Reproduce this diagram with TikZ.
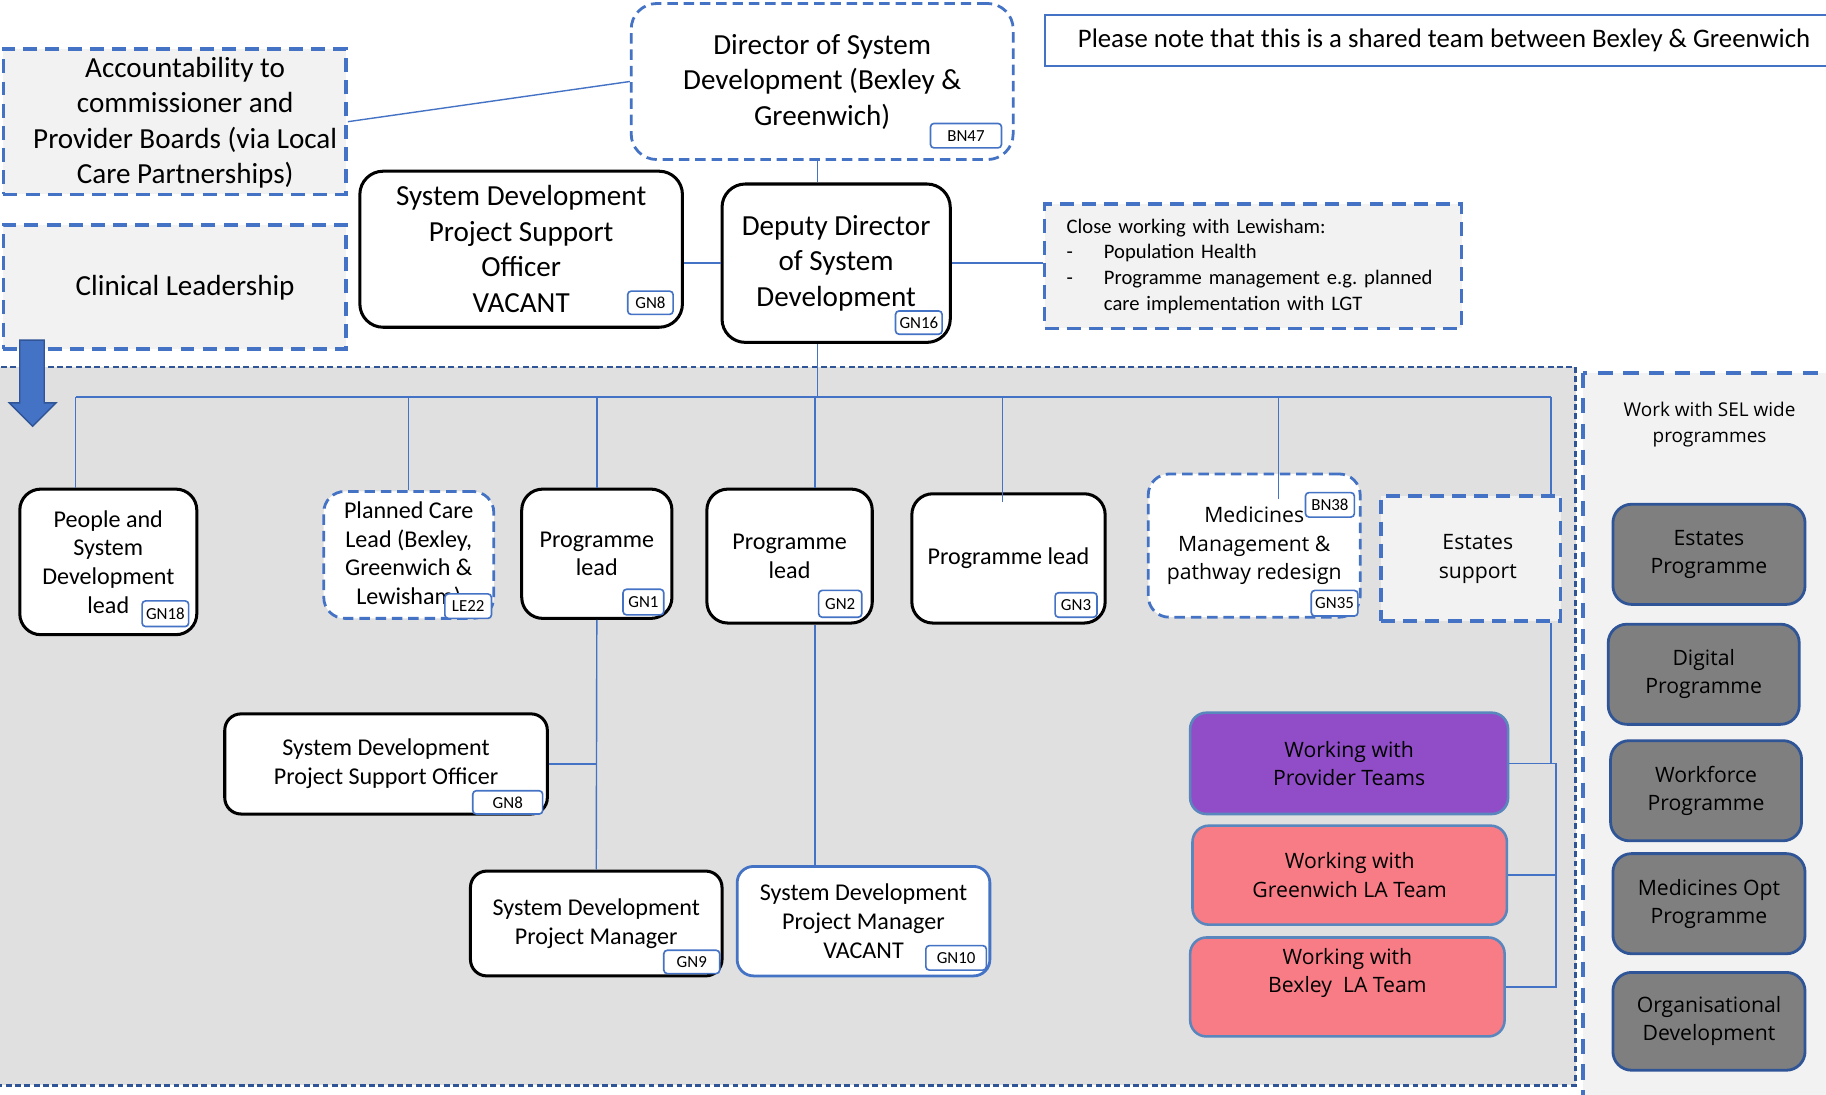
\documentclass[tikz,border=0pt]{standalone}
\usepackage{fontspec}
\setmainfont{Carlito}
\newfontfamily\osans{Open Sans}
\usetikzlibrary{calc}
\definecolor{bl}{HTML}{4472C4}
\definecolor{dbl}{HTML}{2F5597}
\definecolor{lg}{HTML}{F2F2F2}
\definecolor{rg}{HTML}{E0E0E0}
\definecolor{purp}{HTML}{914DC8}
\definecolor{pinkbox}{HTML}{F87C86}
\definecolor{mg}{HTML}{7F7F7F}
\definecolor{wb}{HTML}{5A86BE}
\frenchspacing
\begin{document}
\begin{tikzpicture}[x=1pt,y=-1pt,
 box/.style={rectangle, inner sep=0pt, align=center},
 blk/.style={box, draw=black, line width=2.6pt, rounded corners=18pt, fill=white},
 bluebox/.style={box, draw=bl, line width=2.4pt, rounded corners=18pt, fill=white},
 dashbox/.style={box, draw=bl, line width=3.4pt, dash pattern=on 12pt off 7pt, fill=lg},
 dashrnd/.style={box, draw=bl, line width=2.4pt, dash pattern=on 9pt off 5pt, rounded corners=18pt, fill=white},
 badge/.style={rectangle, draw=bl, line width=1.4pt, rounded corners=3pt, fill=white, inner sep=0pt, font=\fontsize{14.5}{16}\selectfont},
 conn/.style={draw=bl, line width=1.2pt},
 big/.style={font=\fontsize{25}{30.5}\selectfont},
 mid/.style={font=\fontsize{20.7}{24.7}\selectfont},
 osm/.style={font=\osans\fontsize{18.2}{24.3}\selectfont},
 work/.style={box, draw=wb, line width=2.2pt, rounded corners=14pt},
 prog/.style={box, draw=dbl, line width=2.4pt, rounded corners=16pt, fill=mg, osm},
]
\path[use as bounding box] (0,0) rectangle (1568,940);
\clip (0,0) rectangle (1568,940);
\fill[white] (0,0) rectangle (1568,940);

% regions
\fill[rg] (-10,315) rectangle (1353,932);
\draw[dbl, line width=2pt, dash pattern=on 5pt off 3pt] (-10,315) rectangle (1353,932);
\draw[bl, fill=lg, line width=3.4pt, dash pattern=on 13pt off 9pt] (1359,320) rectangle (1595,955);
\node[font=\osans\fontsize{16.3}{23}\selectfont, align=center] (selt) at (1468,364.5) {Work with SEL wide\\programmes};

% top
\node[dashbox, minimum width=294pt, minimum height=125pt] (acc) at (150,104.5) {};
\node[big, align=center] (acct) at (159,105.5) {Accountability to\\commissioner and\\Provider Boards (via Local\\Care Partnerships)};
\node[dashbox, minimum width=294pt, minimum height=107pt] (clin) at (150,246.5) {};
\node[big] (clint) at (159,247) {Clinical Leadership};
\node[dashrnd, big, rounded corners=22pt, minimum width=328pt, minimum height=134pt] (dir) at (706,70) {Director of System\\Development (Bexley \&\\Greenwich)};
\node[box, draw=bl, line width=1.6pt, fill=white, minimum width=686pt, minimum height=44pt, font=\fontsize{23}{27}\selectfont] (note) at (1240,35) {Please note that this is a shared team between Bexley \& Greenwich};
\node[blk, big, rounded corners=20pt, minimum width=277pt, minimum height=134pt] (so) at (447.5,214) {System Development\\Project Support\\Officer\\VACANT};
\node[blk, big, rounded corners=20pt, minimum width=196pt, minimum height=136pt] (dep) at (718,226) {Deputy Director\\of System\\Development};
\node[dashbox, line width=3pt, minimum width=358pt, minimum height=107pt, text width=320pt, inner xsep=19pt, align=left, font=\fontsize{17.7}{22}\selectfont] (close) at (1076,228.5) {Close working with Lewisham:\\\makebox[32pt][l]{-}Population Health\\\makebox[32pt][l]{-}Programme management e.g. planned\\\hspace*{32pt}care implementation with LGT};

% second row
\node[blk, mid, minimum width=152pt, minimum height=125pt] (people) at (93,482.5) {People and\\System\\Development\\lead};
\node[dashrnd, mid, minimum width=146pt, minimum height=109pt] (plan) at (351,476.5) {Planned Care\\Lead (Bexley,\\Greenwich \&\\Lewisham)};
\node[blk, mid, minimum width=129pt, minimum height=111pt] (gn1) at (512.5,475.5) {Programme\\lead};
\node[blk, mid, minimum width=142pt, minimum height=115pt] (gn2) at (678,477.5) {Programme\\lead};
\node[blk, mid, minimum width=166pt, minimum height=111pt] (gn3) at (866,479.5) {Programme lead};
\node[dashrnd, osm, minimum width=182pt, minimum height=123pt] (med) at (1077,468.5) {Medicines\\Management \&\\pathway redesign};
\node[dashbox, minimum width=154pt, minimum height=107pt] (est) at (1263,479.5) {};
\node[osm, align=center] (estt) at (1269,480) {Estates\\support};

% lower
\node[blk, mid, rounded corners=14pt, minimum width=277pt, minimum height=86pt] (sdo) at (331.5,656) {System Development\\Project Support Officer};
\node[blk, mid, rounded corners=14pt, minimum width=216pt, minimum height=90pt] (gn9) at (512,793) {System Development\\Project Manager};
\node[bluebox, mid, rounded corners=14pt, minimum width=217pt, minimum height=94pt] (gn10) at (741.5,791) {System Development\\Project Manager\\VACANT};

% working with
\node[work, fill=purp, osm, minimum width=273pt, minimum height=87pt] (prov) at (1158.5,655.5) {Working with\\Provider Teams};
\node[work, fill=pinkbox, osm, minimum width=270pt, minimum height=85pt] (gre) at (1159,751.5) {Working with\\Greenwich LA Team};
\node[work, fill=pinkbox, minimum width=270pt, minimum height=85pt] (bex) at (1157,847.5) {};
\node[osm, align=center] (bext) at (1157,835.5) {Working with\\Bexley~~LA Team};

% SEL programmes
\node[prog, minimum width=165pt, minimum height=86pt] (ep) at (1467.5,476) {Estates\\Programme};
\node[prog, minimum width=164pt, minimum height=86pt] (dp) at (1463,579) {Digital\\Programme};
\node[prog, minimum width=164pt, minimum height=86pt] (wp) at (1465,679) {Workforce\\Programme};
\node[prog, minimum width=165pt, minimum height=86pt] (mp) at (1467.5,776) {Medicines Opt\\Programme};
\node[prog, minimum width=165pt, minimum height=84pt] (od) at (1467.5,877) {Organisational\\Development};

% connectors
\coordinate (bx) at (702,0);
\coordinate (d1) at (65,341);
\coordinate (d2) at (351,341);
\coordinate (d3) at (512.5,341);
\coordinate (d4) at (700,341);
\coordinate (d5) at (861,341);
\coordinate (d6) at (1098,341);
\coordinate (d7) at (1332,341);
\coordinate (br) at (1336,0);
\draw[conn] (acc.east) -- (dir.west);
\draw[conn] (bx |- dir.south) -- (bx |- dep.north);
\draw[conn] (dep.west) -- (dep.west -| so.east);
\draw[conn] (dep.east) -- (dep.east -| close.west);
\draw[conn] (bx |- dep.south) -- (d4 -| bx);
\draw[conn] (d1) -- (d7);
\draw[conn] (d1) -- (d1 |- people.north);
\draw[conn] (d2) -- (plan.north);
\draw[conn] (d3) -- (gn1.north);
\draw[conn] (d4) -- (d4 |- gn2.north);
\draw[conn] (d5) -- ($(d5 |- gn3.north)+(0,8)$);
\draw[conn] (d6) -- ($(d6 |- med.north)+(0,23)$);
\draw[conn] (d7) -- (d7 |- est.north);
\draw[conn] (d7 |- est.south) -- (d7 |- prov.east);
\draw[conn] (prov.east) -- (prov.east -| br) -- (br |- bex.east) -- (bex.east);
\draw[conn] (gre.east) -- (gre.east -| br);
\draw[conn] (gn1.south) -- (gn9.north);
\draw[conn] (sdo.east) -- (sdo.east -| gn1.south);
\draw[conn] (d4 |- gn2.south) -- (d4 |- gn10.north);

% badges
\node[badge, minimum width=61pt, minimum height=21pt] (bn47) at (829.5,116.5) {BN47};
\node[badge, minimum width=39pt, minimum height=20pt] (b8a) at (558.5,260) {GN8};
\node[badge, minimum width=40pt, minimum height=20pt] (b16) at (789,277) {GN16};
\node[badge, minimum width=40pt, minimum height=22pt] (b18) at (142,527) {GN18};
\node[badge, minimum width=40pt, minimum height=21pt] (le22) at (402,520.5) {LE22};
\node[badge, minimum width=35pt, minimum height=22pt] (b1) at (552.5,517) {GN1};
\node[badge, minimum width=37pt, minimum height=23pt] (b2) at (721.5,518.5) {GN2};
\node[badge, minimum width=36pt, minimum height=21pt] (b3) at (924,519.5) {GN3};
\node[badge, minimum width=42pt, minimum height=21pt] (bn38) at (1142,433.5) {BN38};
\node[badge, minimum width=40pt, minimum height=22pt] (b35) at (1146,518) {GN35};
\node[badge, minimum width=60pt, minimum height=20pt] (b8b) at (436,689) {GN8};
\node[badge, minimum width=48pt, minimum height=20pt] (b9) at (594,826) {GN9};
\node[badge, minimum width=52pt, minimum height=21pt] (b10) at (821,822.5) {GN10};

% arrow
\filldraw[fill=bl, draw=dbl, line width=1.2pt] (17,292) -- (38,292) -- (38,346) -- (48,346) -- (28,366) -- (8,346) -- (17,346) -- cycle;
\end{tikzpicture}
\end{document}
